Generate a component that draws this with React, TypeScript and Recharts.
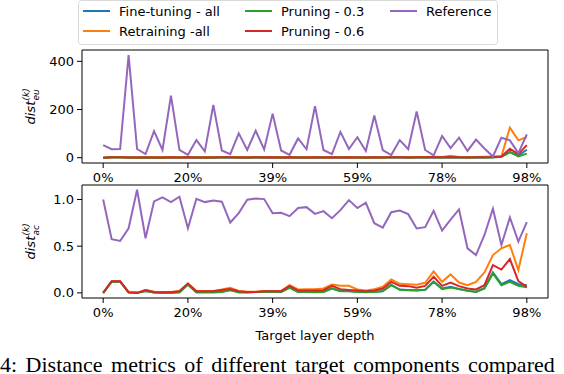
import { LineChart, Line, XAxis, YAxis, Legend, ReferenceLine } from 'recharts';

const depthIdx = Array.from({ length: 51 }, (_, i) => i);
const tickIdx = [0, 10, 20, 30, 40, 50];
const tickLabels = ['0%', '20%', '39%', '59%', '78%', '98%'];

// top panel: euclidean distance
const fineEu = [0, 2, 2, 1, 1, 1, 1, 1, 1, 1, 2, 1, 1, 1, 1, 2, 1, 1, 1, 1, 1, 1, 2, 1, 1, 1, 1, 2, 1, 1, 1, 1, 1, 1, 2, 1, 1, 1, 1, 2, 1, 2, 1, 1, 1, 1, 2, 5, 23, 10, 33];
const retrainEu = [0, 3, 3, 2, 2, 2, 2, 2, 3, 2, 3, 2, 2, 2, 3, 3, 2, 2, 3, 2, 3, 2, 3, 2, 2, 3, 2, 3, 2, 3, 2, 2, 3, 2, 3, 3, 2, 3, 3, 4, 3, 8, 3, 2, 3, 4, 5, 5, 125, 72, 86];
const prune03Eu = [0, 1, 1, 1, 0, 1, 0, 0, 1, 1, 1, 1, 0, 1, 1, 1, 1, 0, 1, 1, 1, 1, 1, 1, 0, 1, 1, 1, 1, 1, 1, 0, 1, 1, 1, 1, 1, 1, 1, 1, 1, 1, 1, 1, 1, 1, 1, 4, 23, 5, 17];
const prune06Eu = [0, 2, 2, 1, 1, 1, 1, 1, 2, 1, 2, 1, 1, 1, 2, 2, 1, 1, 2, 1, 2, 1, 2, 1, 1, 2, 1, 2, 1, 2, 1, 1, 2, 1, 2, 2, 1, 2, 2, 3, 2, 3, 2, 1, 2, 2, 3, 5, 37, 15, 52];
const refEu = [52, 35, 36, 426, 36, 15, 110, 32, 258, 32, 12, 73, 26, 219, 30, 15, 101, 32, 112, 34, 183, 30, 12, 80, 35, 214, 32, 15, 107, 36, 85, 28, 175, 32, 11, 73, 35, 192, 32, 10, 90, 40, 83, 28, 75, 38, 5, 83, 72, 19, 97];

// bottom panel: angular distance
const fineAc = [0, 0.12, 0.12, 0.005, 0, 0.02, 0.005, 0.002, 0.002, 0.008, 0.09, 0.008, 0.008, 0.008, 0.012, 0.03, 0.008, 0.006, 0.01, 0.012, 0.015, 0.012, 0.058, 0.012, 0.01, 0.008, 0.012, 0.05, 0.02, 0.02, 0.012, 0.008, 0.012, 0.02, 0.085, 0.035, 0.03, 0.027, 0.034, 0.12, 0.047, 0.065, 0.042, 0.024, 0.012, 0.05, 0.219, 0.093, 0.136, 0.093, 0.082];
const retrainAc = [0, 0.125, 0.125, 0.007, 0, 0.03, 0.012, 0.01, 0.01, 0.02, 0.1, 0.02, 0.02, 0.02, 0.035, 0.054, 0.02, 0.012, 0.012, 0.02, 0.02, 0.02, 0.082, 0.036, 0.04, 0.04, 0.047, 0.09, 0.075, 0.075, 0.036, 0.025, 0.04, 0.065, 0.143, 0.097, 0.093, 0.086, 0.108, 0.229, 0.118, 0.197, 0.111, 0.082, 0.118, 0.219, 0.405, 0.477, 0.513, 0.244, 0.638];
const prune03Ac = [0, 0.12, 0.12, 0.005, 0, 0.02, 0.005, 0, 0, 0.005, 0.09, 0.005, 0.005, 0.005, 0.01, 0.03, 0.005, 0.005, 0.01, 0.01, 0.015, 0.01, 0.054, 0.01, 0.008, 0.006, 0.01, 0.047, 0.018, 0.018, 0.01, 0.006, 0.01, 0.018, 0.082, 0.032, 0.029, 0.025, 0.032, 0.118, 0.04, 0.057, 0.04, 0.022, 0.01, 0.047, 0.208, 0.082, 0.118, 0.075, 0.061];
const prune06Ac = [0, 0.125, 0.125, 0.007, 0, 0.03, 0.01, 0.007, 0.007, 0.018, 0.1, 0.018, 0.018, 0.018, 0.03, 0.04, 0.018, 0.01, 0.01, 0.018, 0.018, 0.018, 0.075, 0.025, 0.025, 0.025, 0.029, 0.075, 0.04, 0.032, 0.025, 0.018, 0.025, 0.047, 0.118, 0.075, 0.072, 0.054, 0.075, 0.172, 0.075, 0.111, 0.072, 0.047, 0.036, 0.082, 0.297, 0.25, 0.362, 0.125, 0.065];
const refAc = [1.0, 0.574, 0.556, 0.692, 1.104, 0.585, 0.979, 1.022, 0.972, 1.029, 0.692, 1.008, 0.972, 0.99, 0.976, 0.753, 0.854, 0.997, 1.011, 1.004, 0.853, 0.857, 0.821, 0.908, 0.918, 0.846, 0.875, 0.8, 0.886, 0.993, 0.908, 0.965, 0.746, 0.699, 0.864, 0.882, 0.843, 0.689, 0.703, 0.879, 0.667, 0.785, 0.893, 0.477, 0.405, 0.62, 0.9, 0.513, 0.807, 0.549, 0.757];

const series = [
  { key: 'fine', name: 'Fine-tuning - all', color: '#1f77b4' },
  { key: 'retrain', name: 'Retraining -all', color: '#ff7f0e' },
  { key: 'p03', name: 'Pruning - 0.3', color: '#2ca02c' },
  { key: 'p06', name: 'Pruning - 0.6', color: '#d62728' },
  { key: 'ref', name: 'Reference', color: '#9467bd' },
];

const euData = depthIdx.map(i => ({ idx: i, fine: fineEu[i], retrain: retrainEu[i], p03: prune03Eu[i], p06: prune06Eu[i], ref: refEu[i] }));
const acData = depthIdx.map(i => ({ idx: i, fine: fineAc[i], retrain: retrainAc[i], p03: prune03Ac[i], p06: prune06Ac[i], ref: refAc[i] }));

const FONT = 'DejaVu Sans, sans-serif';
const tickStyle = { fill: '#000', fontSize: 13, fontFamily: FONT };
const fmtX = (v: number) => tickLabels[tickIdx.indexOf(v)] ?? '';
const X_DOMAIN = [-2.5, 52.5];

// rotated mathtext-ish label: dist^(k)_sub
const DistLabel = ({ viewBox, sub }: any) => {
  const cy = viewBox.y + viewBox.height / 2;
  return (
    <g transform={`translate(35, ${cy}) rotate(-90)`} fontFamily={FONT} fill="#000">
      <text x={-18} y={0} fontSize={13} fontStyle="italic">dist</text>
      <text x={6} y={-6} fontSize={9} fontStyle="italic">(k)</text>
      <text x={6} y={3.5} fontSize={9} fontStyle="italic">{sub}</text>
    </g>
  );
};

const LegendBox = () => {
  const cols = [5, 167, 312];
  const rows = [11, 31];
  return (
    <svg width={421} height={46} style={{ display: 'block' }}>
      <rect x={0.5} y={0.5} width={419} height={44} rx={3} fill="#fff" stroke="#d9d9d9" />
      {series.map((s, i) => {
        const x = cols[Math.floor(i / 2)];
        const y = rows[i % 2];
        return (
          <g key={s.key}>
            <line x1={x} x2={x + 27} y1={y} y2={y} stroke={s.color} strokeWidth={2} />
            <text x={x + 36} y={y + 4.5} fontSize={13} fontFamily={FONT} fill="#000">{s.name}</text>
          </g>
        );
      })}
    </svg>
  );
};

const frame = { stroke: '#000', strokeWidth: 1 };

function Panel({ data, top, height, margin, yDomain, yTicks, yFmt, sub, xHeight, xLabel, legend }: any) {
  return (
    <div style={{ position: 'absolute', left: 0, top }}>
      <LineChart width={564} height={height} data={data} margin={margin}>
        <XAxis dataKey="idx" type="number" domain={X_DOMAIN} ticks={tickIdx} tickFormatter={fmtX}
          tick={tickStyle} tickSize={5} tickMargin={5} axisLine={frame} tickLine={frame} height={xHeight}
          label={xLabel ? { value: xLabel, position: 'insideBottom', offset: 6, fill: '#000', fontSize: 13, fontFamily: FONT } : undefined} />
        <YAxis type="number" domain={yDomain} ticks={yTicks} tickFormatter={yFmt} tick={tickStyle}
          tickSize={5} tickMargin={3} axisLine={frame} tickLine={frame} width={82}
          label={<DistLabel sub={sub} />} />
        {legend && (
          <Legend verticalAlign="top" content={<LegendBox />} wrapperStyle={{ top: 0, left: 78, width: 421, height: 46 }} />
        )}
        {series.map(s => (
          <Line key={s.key} dataKey={s.key} name={s.name} stroke={s.color} strokeWidth={2} dot={false}
            isAnimationActive={false} />
        ))}
        {/* top and right spines */}
        <ReferenceLine y={yDomain[1]} stroke="#000" strokeWidth={1} />
        <ReferenceLine x={X_DOMAIN[1]} stroke="#000" strokeWidth={1} />
      </LineChart>
    </div>
  );
}

export default function App() {
  return (
    <div style={{ position: 'absolute', left: 0, top: 0, width: 564, height: 374, overflow: 'hidden', background: '#fff' }}>
      <Panel data={euData} top={0} height={190} margin={{ top: 4, right: 16, left: 0, bottom: 0 }}
        yDomain={[-22, 447]} yTicks={[0, 200, 400]} yFmt={(v: number) => String(v)} sub="eu" xHeight={27} legend />
      <Panel data={acData} top={170} height={176} margin={{ top: 15, right: 16, left: 0, bottom: 0 }}
        yDomain={[-0.055, 1.155]} yTicks={[0, 0.5, 1]} yFmt={(v: number) => v.toFixed(1)} sub="ac" xHeight={48}
        xLabel="Target layer depth" />
      <div style={{ position: 'absolute', left: 0, top: 352, whiteSpace: 'nowrap', fontFamily: 'Liberation Serif, serif', fontSize: 22, wordSpacing: 3, color: '#000' }}>
        4:  Distance metrics of different target components compared
      </div>
    </div>
  );
}
